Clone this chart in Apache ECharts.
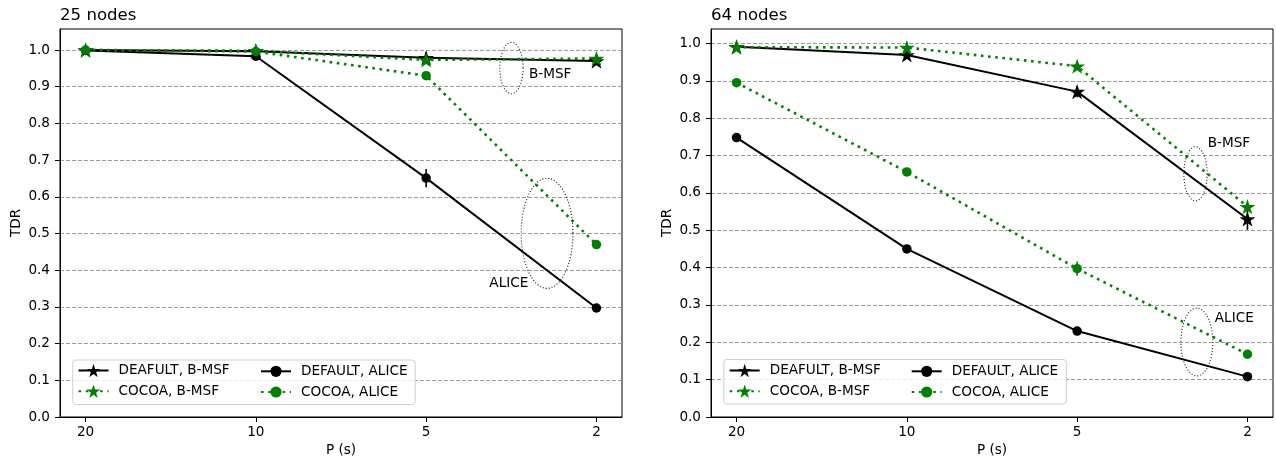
<!DOCTYPE html>
<html>
<head>
<meta charset="utf-8">
<script src="https://cdn.jsdelivr.net/npm/echarts@6.0.0/dist/echarts.min.js"></script>
<style>
  html, body { margin: 0; padding: 0; background: #fff; }
  #chart { width: 1276px; height: 461px; }
</style>
</head>
<body>
<div id="chart"></div>
<script>
// x positions are the sampling periods, shown as categories
const pLabels = ['20', '10', '5', '2'];
const yTicks = [0, 0.1, 0.2, 0.3, 0.4, 0.5, 0.6, 0.7, 0.8, 0.9, 1.0];

// 25 nodes
const n25DefaultBmsf = [1.0, 0.997, 0.979, 0.970];
const n25CocoaBmsf = [1.0, 0.998, 0.973, 0.977];
const n25DefaultAlice = [0.999, 0.983, 0.651, 0.297];
const n25CocoaAlice = [1.0, 0.996, 0.930, 0.470];
const n25DefaultBmsfErr = [0.002, 0.003, 0.015, 0.012];
const n25CocoaBmsfErr = [0.002, 0.002, 0.010, 0.010];
const n25DefaultAliceErr = [0.002, 0.005, 0.025, 0.006];
const n25CocoaAliceErr = [0.002, 0.003, 0.010, 0.008];

// 64 nodes
const n64DefaultBmsf = [0.991, 0.969, 0.871, 0.530];
const n64CocoaBmsf = [0.990, 0.989, 0.939, 0.563];
const n64DefaultAlice = [0.748, 0.450, 0.230, 0.108];
const n64CocoaAlice = [0.895, 0.656, 0.397, 0.168];
const n64DefaultBmsfErr = [0.005, 0.006, 0.015, 0.029];
const n64CocoaBmsfErr = [0.008, 0.006, 0.008, 0.010];
const n64DefaultAliceErr = [0.008, 0.006, 0.006, 0.005];
const n64CocoaAliceErr = [0.007, 0.006, 0.019, 0.008];

const FONT = 'DejaVu Sans';
const FS = 13.6;
const STAR = 'path://M0,-100 L22.45,-30.9 L95.1,-30.9 L36.3,11.8 L58.8,80.9 L0,38.2 L-58.8,80.9 L-36.3,11.8 L-95.1,-30.9 L-22.45,-30.9 Z';

const looks = {
  'DEAFULT, B-MSF': { color: '#000', width: 2, type: 'solid', symbol: STAR, size: 16 },
  'COCOA, B-MSF': { color: '#008000', width: 2.6, type: [2.6, 4.6], symbol: STAR, size: 16 },
  'DEFAULT, ALICE': { color: '#000', width: 2, type: 'solid', symbol: 'circle', size: 9.5 },
  'COCOA, ALICE': { color: '#008000', width: 2.6, type: [2.6, 4.6], symbol: 'circle', size: 9.5 }
};

// annotations in data units: ellipses [cx, cy, w, h], labels
const notes = [
  {
    ellipses: [[2.501, 0.951, 0.137, 0.14], [2.71, 0.5005, 0.304, 0.30]],
    texts: [{ x: 2.604, y: 0.933, text: 'B-MSF', align: 'left' },
            { x: 2.60, y: 0.365, text: 'ALICE', align: 'right' }]
  },
  {
    ellipses: [[2.695, 0.651, 0.137, 0.145], [2.703, 0.2008, 0.1875, 0.1815]],
    texts: [{ x: 2.767, y: 0.731, text: 'B-MSF', align: 'left' },
            { x: 2.808, y: 0.2627, text: 'ALICE', align: 'left' }]
  }
];

function lineSeries(name, vals, axis) {
  const s = looks[name];
  return {
    type: 'line', name: name, xAxisIndex: axis, yAxisIndex: axis, z: 3,
    data: vals.map((v, i) => [i, v]),
    symbol: s.symbol, symbolSize: s.size, symbolKeepAspect: true,
    showSymbol: true,
    lineStyle: { color: s.color, width: s.width, type: s.type, cap: 'butt' },
    itemStyle: { color: s.color, borderWidth: 0 },
    emphasis: { disabled: true }
  };
}

function errSeries(name, vals, errs, axis) {
  const color = looks[name].color;
  return {
    type: 'custom', name: name + ' err', xAxisIndex: axis, yAxisIndex: axis, z: 3,
    silent: true,
    data: vals.map((v, i) => [i, v - errs[i], v + errs[i]]),
    renderItem: function (params, api) {
      const lo = api.coord([api.value(0), api.value(1)]);
      const hi = api.coord([api.value(0), api.value(2)]);
      return {
        type: 'line',
        shape: { x1: lo[0], y1: lo[1], x2: hi[0], y2: hi[1] },
        style: { stroke: color, lineWidth: 1.6 }
      };
    }
  };
}

function noteSeries(note, axis) {
  return {
    type: 'custom', name: 'notes' + axis, xAxisIndex: axis, yAxisIndex: axis, z: 4,
    silent: true,
    data: [[0, 0]],
    renderItem: function (params, api) {
      const children = [];
      note.ellipses.forEach(e => {
        const c = api.coord([e[0], e[1]]);
        const sz = api.size([e[2], e[3]]);
        const pts = [];
        for (let k = 0; k <= 90; k++) {
          const a = k / 90 * Math.PI * 2;
          pts.push([c[0] + sz[0] / 2 * Math.cos(a), c[1] + sz[1] / 2 * Math.sin(a)]);
        }
        children.push({
          type: 'polyline', shape: { points: pts },
          style: { stroke: '#222', lineWidth: 1.1, lineDash: [1.1, 1.9], fill: null }
        });
      });
      note.texts.forEach(t => {
        const p = api.coord([t.x, t.y]);
        children.push({
          type: 'text',
          style: { text: t.text, x: p[0], y: p[1], fill: '#000', fontSize: FS,
                   fontFamily: FONT, align: t.align, verticalAlign: 'middle' }
        });
      });
      return { type: 'group', children: children };
    }
  };
}

const grids = [
  { left: 60, top: 29, width: 562, height: 388 },
  { left: 711, top: 29, width: 562, height: 388 }
];
const yMax = [1.0573, 1.0386];

function xAxis(i) {
  return {
    type: 'value', gridIndex: i, min: -0.15, max: 3.15,
    name: 'P (s)', nameLocation: 'middle', nameGap: 26,
    nameTextStyle: { color: '#000', fontSize: FS, fontFamily: FONT },
    axisLine: { show: true, onZero: false, lineStyle: { color: '#000', width: 1 } },
    axisTick: { show: true, length: 5, customValues: [0, 1, 2, 3], lineStyle: { color: '#000' } },
    axisLabel: {
      customValues: [0, 1, 2, 3], margin: 8, color: '#000', fontSize: FS, fontFamily: FONT,
      formatter: v => pLabels[Math.round(v)]
    },
    splitLine: { show: false }
  };
}

function yAxis(i) {
  return {
    type: 'value', gridIndex: i, min: 0, max: yMax[i],
    name: 'TDR', nameLocation: 'middle', nameGap: 37,
    nameTextStyle: { color: '#000', fontSize: FS, fontFamily: FONT },
    axisLine: { show: true, onZero: false, lineStyle: { color: '#000', width: 1 } },
    axisTick: { show: true, length: 5, customValues: yTicks, lineStyle: { color: '#000' } },
    axisLabel: {
      customValues: yTicks, margin: 10, color: '#000', fontSize: FS, fontFamily: FONT,
      formatter: v => v.toFixed(1)
    },
    splitLine: { show: true, lineStyle: { color: '#9a9a9a', width: 1, type: [4, 2] } }
  };
}

// one legend per entry so the two columns line up like the reference
function legendItem(left, rowCenter, name) {
  const h = looks[name].symbol === 'circle' ? 14 : 17;
  const boxH = Math.max(h, 15.4);
  return {
    left: left, top: rowCenter + 1 - boxH / 2, orient: 'vertical', padding: 0, z: 10,
    itemWidth: 30, itemHeight: h,
    selectedMode: false,
    data: [name],
    textStyle: { color: '#000', fontSize: FS, fontFamily: FONT, padding: [0, 0, 0, 5] }
  };
}

function legendBox(x, y) {
  return {
    type: 'rect', z: 9, silent: true,
    shape: { x: x, y: y, width: 342.5, height: 44.5, r: 3 },
    style: { fill: 'rgba(255,255,255,0.8)', stroke: '#d0d0d0', lineWidth: 1 }
  };
}

const panels = [
  [n25DefaultBmsf, n25CocoaBmsf, n25DefaultAlice, n25CocoaAlice,
   n25DefaultBmsfErr, n25CocoaBmsfErr, n25DefaultAliceErr, n25CocoaAliceErr],
  [n64DefaultBmsf, n64CocoaBmsf, n64DefaultAlice, n64CocoaAlice,
   n64DefaultBmsfErr, n64CocoaBmsfErr, n64DefaultAliceErr, n64CocoaAliceErr]
];
const names = ['DEAFULT, B-MSF', 'COCOA, B-MSF', 'DEFAULT, ALICE', 'COCOA, ALICE'];

const series = [];
panels.forEach((p, ax) => {
  names.forEach((n, k) => {
    series.push(errSeries(n, p[k], p[k + 4], ax));
    series.push(lineSeries(n, p[k], ax));
  });
  series.push(noteSeries(notes[ax], ax));
});

// legend columns: [left of handle] per panel, rows 371 / 391.7
const legendCols = [[77.5, 260], [728.7, 910.7]];
const legendRows = [371, 391.7];
const legends = [];
legendCols.forEach(cols => {
  legends.push(legendItem(cols[0], legendRows[0], names[0]));
  legends.push(legendItem(cols[0], legendRows[1], names[1]));
  legends.push(legendItem(cols[1], legendRows[0], names[2]));
  legends.push(legendItem(cols[1], legendRows[1], names[3]));
});

const chart = echarts.init(document.getElementById('chart'), null, { renderer: 'canvas' });
chart.setOption({
  animation: false,
  backgroundColor: '#fff',
  title: [
    { text: '25 nodes', left: 60, top: 7, padding: 0,
      textStyle: { color: '#000', fontSize: 16.6, fontWeight: 'normal', fontFamily: FONT } },
    { text: '64 nodes', left: 711, top: 7, padding: 0,
      textStyle: { color: '#000', fontSize: 16.6, fontWeight: 'normal', fontFamily: FONT } }
  ],
  grid: grids.map(g => Object.assign({
    show: true, borderColor: '#000', borderWidth: 1, backgroundColor: 'transparent',
    containLabel: false, outerBoundsMode: 'none'
  }, g)),
  xAxis: [xAxis(0), xAxis(1)],
  yAxis: [yAxis(0), yAxis(1)],
  legend: legends,
  graphic: [legendBox(72.7, 360), legendBox(723.8, 359.5)],
  series: series
});
</script>
</body>
</html>
